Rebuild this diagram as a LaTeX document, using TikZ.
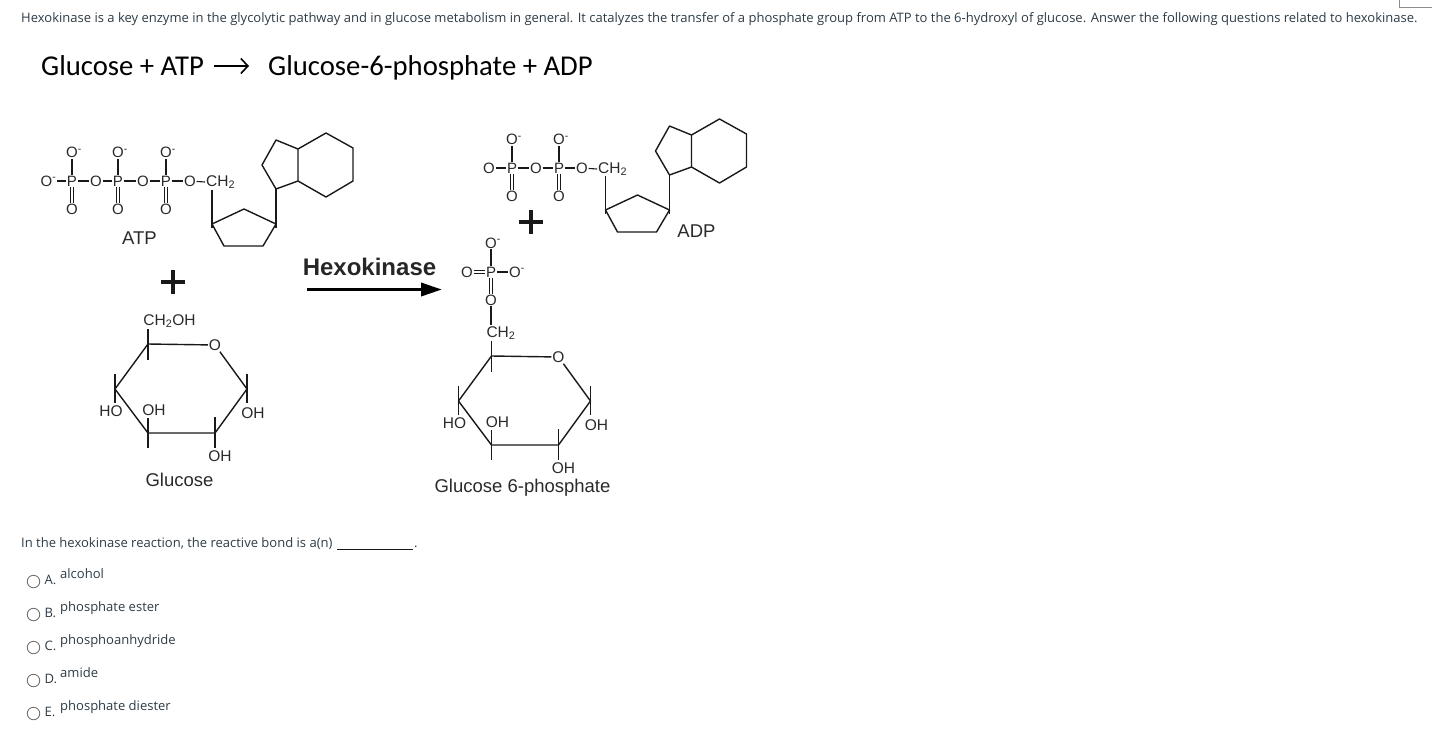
\documentclass[tikz,border=0pt]{standalone}
\usepackage{fontspec}
\setmainfont{Liberation Sans}
\newfontfamily\webfont{Open Sans}
\newfontfamily\headfont{Carlito}
\usetikzlibrary{arrows.meta}
\definecolor{webtext}{HTML}{2D3B45}
\definecolor{chemtext}{HTML}{2A2A2A}
\newcommand{\Oneg}{O\rlap{\textsuperscript{-}}}
\tikzset{
    atom/.style={inner sep=.6pt,font=\fontsize{15}{16}\selectfont,text=chemtext},
    group/.style={inner sep=1pt,font=\fontsize{15.5}{17}\selectfont,text=chemtext},
    caption/.style={inner sep=0pt,font=\fontsize{18.5}{20}\selectfont,text=chemtext},
    web/.style={inner sep=0pt,anchor=base west,font=\webfont\fontsize{13.02}{15}\selectfont,text=webtext},
    head/.style={inner sep=0pt,anchor=base west,font=\headfont\fontsize{28.7}{32}\selectfont,text=black},
    bond/.style={draw=black!90,line width=1.1pt},
    dbond/.style={bond,double,double distance=1.8pt,line width=.8pt},
    ring/.style={draw=black!90,line width=1.4pt,line join=round},
    radio/.style={circle,draw=black!55,line width=.9pt,minimum size=12.5pt,inner sep=0pt},
    plus/.style={line width=3.5pt,black!90},
}
\begin{document}
\begin{tikzpicture}[x=1pt,y=-1pt]
    \useasboundingbox (0,0) rectangle (1432,732);
    \draw[black!45,line width=.8pt] (1399.5,0) -- (1399.5,7) -- (1432,7);
    \node[web] (intro) at (21,22) {Hexokinase is a key enzyme in the glycolytic pathway and in glucose metabolism in general. It catalyzes the transfer of a phosphate group from ATP to the 6-hydroxyl of glucose. Answer the following questions related to hexokinase.};
    \node[head] (eqleft) at (41,75) {Glucose + ATP};
    \node[head] (eqright) at (268,75) {Glucose-6-phosphate + ADP};
    \coordinate (eqstart) at (214,66);
    \coordinate (eqend) at (249,66);
    \draw[line width=1.6pt,-{Straight Barb[length=7pt,width=15pt]}] (eqstart) -- (eqend);

    % phosphates
    \foreach \name/\px/\py in {a/72/181,b/118/181,c/166/181,d/512/168,e/559/168}{
        \node[atom] (P\name) at (\px,\py) {P};
        \node[atom] (Ot\name) at (\px,\py-28.5) {\Oneg};
        \node[atom] (Ob\name) at (\px,\py+28) {O};
        \draw[bond] (P\name) -- (Ot\name);
        \draw[dbond] (P\name) -- (Ob\name);
    }
    \foreach \name/\px/\py/\from/\to in {ab/96/181/a/b,bc/143/181/b/c,de/536/168/d/e}{
        \node[atom] (O\name) at (\px,\py) {O};
        \draw[bond] (P\from) -- (O\name);
        \draw[bond] (O\name) -- (P\to);
    }
    \node[atom] (Ola) at (46.5,181) {\Oneg};
    \node[atom] (Old) at (489,168) {O};
    \draw[bond] (Ola.east) ++(4pt,0) -- (Pa);
    \draw[bond] (Old) -- (Pd);
    \foreach \name/\px/\py/\from in {c/190/181/c,e/582/168/e}{
        \node[atom] (Oc\name) at (\px,\py) {O};
        \draw[bond] (P\from) -- (Oc\name);
        \node[group,anchor=west] (CH\name) at (\px+15,\py+1) {CH\textsubscript{2}};
        \draw[bond] (Oc\name) -- (CH\name.west);
    }

    % sugar and base, twice
    \foreach \name/\dx/\dy in {atp/0/0,adp/393.5/-14}{
        \begin{scope}[shift={(\dx,\dy)}]
            \coordinate (\name-l) at (212,224);
            \coordinate (\name-t) at (244,209);
            \coordinate (\name-r) at (276,224);
            \coordinate (\name-br) at (263,246);
            \coordinate (\name-bl) at (224,246);
            \coordinate (\name-end) at (212,228);
            \coordinate (\name-rend) at (276,228);
            \coordinate (\name-a) at (276,189);
            \coordinate (\name-b) at (262,165);
            \coordinate (\name-c) at (276,140);
            \coordinate (\name-d) at (298,149);
            \coordinate (\name-e) at (298,181);
            \coordinate (\name-f) at (326,133);
            \coordinate (\name-g) at (353,148);
            \coordinate (\name-h) at (353,181);
            \coordinate (\name-i) at (326,197);
            \coordinate (\name-top) at (212,190);
        \end{scope}
        \draw[ring] (\name-l) -- (\name-t) -- (\name-r) -- (\name-br) -- (\name-bl) -- cycle;
        \draw[ring] (\name-top) -- (\name-end);
        \draw[ring] (\name-a) -- (\name-rend);
        \draw[ring] (\name-a) -- (\name-b) -- (\name-c) -- (\name-d) -- (\name-e) -- cycle;
        \draw[ring] (\name-d) -- (\name-f) -- (\name-g) -- (\name-h) -- (\name-i) -- (\name-e);
    }

    % pyranose rings
    \foreach \name/\dx/\dy in {glc/0/0,gsp/343.5/12}{
        \begin{scope}[shift={(\dx,\dy)}]
            \coordinate (\name-1) at (148,344);
            \node[group] (\name-O) at (215,345) {O};
            \coordinate (\name-2) at (247,389);
            \coordinate (\name-3) at (215,433);
            \coordinate (\name-4) at (148,433);
            \coordinate (\name-5) at (115,389);
            \foreach \tx/\ta/\tb in {148/329/360,115/374/403,247/374/403,215/417/448,148/418/448}{
                \draw[bond] (\tx,\ta) -- (\tx,\tb);
            }
            \node[group] (\name-ho) at (111,411) {HO};
            \node[group] (\name-oha) at (154,410) {OH};
            \node[group] (\name-ohb) at (253,413) {OH};
            \node[group] (\name-ohc) at (220,456) {OH};
        \end{scope}
        \draw[ring] (\name-O) -- (\name-1) -- (\name-5) -- (\name-4) -- (\name-3) -- (\name-2) -- (\name-O);
    }
    \node[group] (chgl) at (169.5,321) {CH\textsubscript{2}OH};

    % free phosphate
    \node[atom] (Pf) at (491,272) {P};
    \node[atom] (Oft) at (491,243) {\Oneg};
    \node[atom] (Ofl) at (467,272) {O};
    \node[atom] (Ofr) at (515,272) {\Oneg};
    \node[atom] (Ofb) at (491,300) {O};
    \node[group] (CHf) at (501,333) {CH\textsubscript{2}};
    \draw[bond] (Pf) -- (Oft);
    \draw[dbond] (Ofl) -- (Pf);
    \draw[bond] (Pf) -- (Ofr);
    \draw[dbond] (Pf) -- (Ofb);
    \draw[bond] (Ofb) -- (Ofb |- CHf.north);

    % labels
    \node[caption] (atplabel) at (139.5,238) {ATP};
    \node[caption] (adplabel) at (696.5,231) {ADP};
    \node[caption] (glclabel) at (179.5,479.5) {Glucose};
    \node[caption] (gsplabel) at (522.5,488) {Glucose 6-phosphate};
    \node[inner sep=0pt,font=\bfseries\fontsize{24}{26}\selectfont,text=black!85] (enzyme) at (369.5,267) {Hexokinase};
    \coordinate (arrowstart) at (307,289.5);
    \coordinate (arrowend) at (442,289.5);
    \draw[line width=3.5pt,black,-{Triangle[length=21pt,width=13pt]}] (arrowstart) -- (arrowend);

    \foreach \name/\px/\py in {plusa/173/282,plusb/531/222}{
        \coordinate (\name) at (\px,\py);
        \draw[plus] ([xshift=-12pt]\name) -- ([xshift=12pt]\name);
        \draw[plus] ([yshift=-12pt]\name) -- ([yshift=12pt]\name);
    }

    % question
    \node[web] (question) at (21,547) {In the hexokinase reaction, the reactive bond is a(n)};
    \coordinate (blankstart) at (337,549);
    \coordinate (blankend) at (413,549);
    \draw[black!90,line width=.9pt] (blankstart) -- (blankend);
    \node[web] (stop) at (414,547) {.};
    \foreach \i/\letter/\answer in {0/A/alcohol,1/B/phosphate ester,2/C/phosphoanhydride,3/D/amide,4/E/phosphate diester}{
        \node[radio] (radio\letter) at (33.5,581.5+33*\i) {};
        \node[web] (letter\letter) at (44.5,584+33*\i) {\letter.};
        \node[web] (answer\letter) at (60,578+33*\i) {\answer};
    }
\end{tikzpicture}
\end{document}
